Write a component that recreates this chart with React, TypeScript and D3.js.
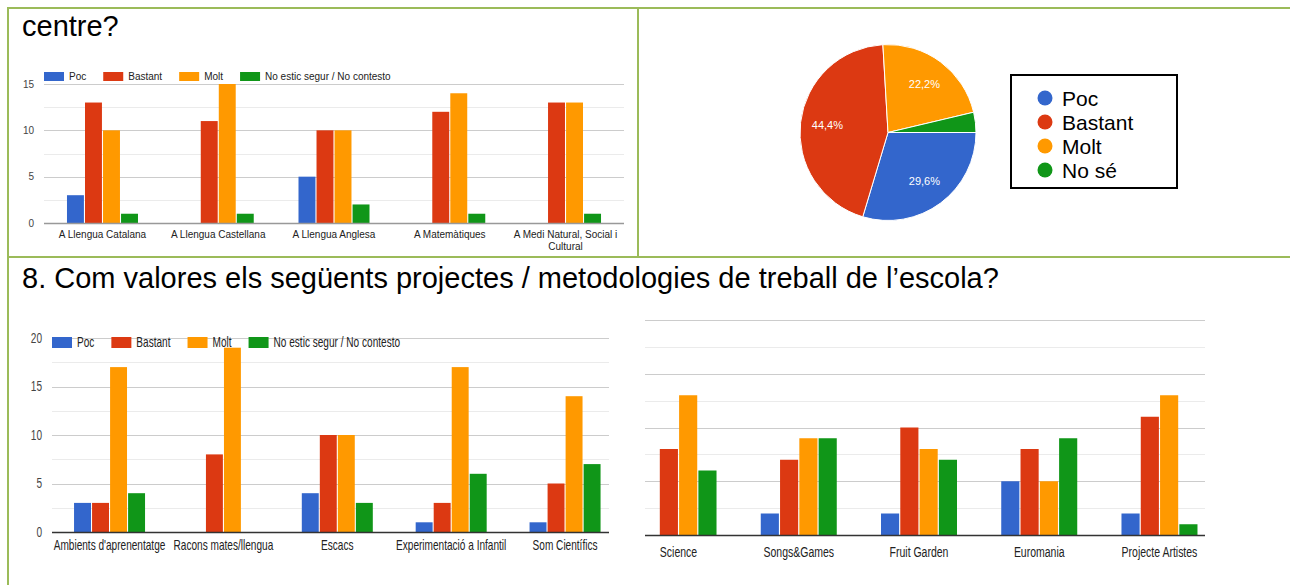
import React, { useEffect, useRef } from "react";
import * as d3 from "d3";

// series shared by the three bar charts
const SERIES = ["Poc", "Bastant", "Molt", "No estic segur / No contesto"];
const COLORS = ["#3366cc", "#dc3912", "#ff9900", "#109618"];

// top-left chart: areas
const AREAS = [
  "A Llengua Catalana",
  "A Llengua Castellana",
  "A Llengua Anglesa",
  "A Matemàtiques",
  "A Medi Natural, Social i Cultural",
];
const AREA_POC = [3, 0, 5, 0, 0];
const AREA_BASTANT = [13, 11, 10, 12, 13];
const AREA_MOLT = [10, 15, 10, 14, 13];
const AREA_NOSE = [1, 1, 2, 1, 1];
const AREA_TICKS = [0, 5, 10, 15];

// top-right pie
const PIE_LABELS = ["Poc", "Bastant", "Molt", "No sé"];
const PIE_VALUES = [8, 12, 6, 1];

// bottom-left chart: projects
const PROJECTS_A = [
  "Ambients d'aprenentatge",
  "Racons mates/llengua",
  "Escacs",
  "Experimentació a Infantil",
  "Som Científics",
];
const PROJ_A_POC = [3, 0, 4, 1, 1];
const PROJ_A_BASTANT = [3, 8, 10, 3, 5];
const PROJ_A_MOLT = [17, 19, 10, 17, 14];
const PROJ_A_NOSE = [4, 0, 3, 6, 7];
const PROJ_TICKS = [0, 5, 10, 15, 20];

// bottom-right chart: more projects (no axis labels in the picture)
const PROJECTS_B = ["Science", "Songs&Games", "Fruit Garden", "Euromania", "Projecte Artistes"];
const PROJ_B_POC = [0, 2, 2, 5, 2];
const PROJ_B_BASTANT = [8, 7, 10, 8, 11];
const PROJ_B_MOLT = [13, 9, 8, 5, 13];
const PROJ_B_NOSE = [6, 9, 7, 9, 1];

const TITLE_1 = "centre?";
const TITLE_2 = "8. Com valores els següents projectes / metodologies de treball de l’escola?";

const FONT = "Arial, 'Liberation Sans', sans-serif";
const BORDER = "#9bbb59";

const W = 1290;
const H = 585;

type Opts = {
  cats: string[];
  values: number[][];
  ticks: number[];
  xRange: [number, number];
  gridX: [number, number];
  yRange: [number, number]; // [base, top]
  groupW: number;
  size: number;
  sx: number;
  labelY: number;
  wrap?: number;
  yLabelX?: number;
  legend?: { x: number; y: number; h: number };
  baseColor: string;
};

// text helper, sx < 1 squeezes the glyphs like the stretched screenshot
function txt(g: any, x: number, y: number, s: string, size: number, sx: number, anchor = "start", fill = "#222") {
  return g
    .append("text")
    .attr("transform", `translate(${x},${y}) scale(${sx},1)`)
    .attr("text-anchor", anchor)
    .attr("font-size", size)
    .attr("font-family", FONT)
    .attr("fill", fill)
    .text(s);
}

function drawGrouped(svg: any, o: Opts) {
  const g = svg.append("g");
  const x = d3.scaleBand<string>().domain(o.cats).range(o.xRange);
  const y = d3.scaleLinear().domain([0, o.ticks[o.ticks.length - 1]]).range(o.yRange);
  const inner = d3
    .scaleBand<number>()
    .domain(d3.range(SERIES.length))
    .range([0, o.groupW])
    .paddingInner(0.06);
  const off = (x.bandwidth() - o.groupW) / 2;

  // minor grid lines halfway between ticks
  const minor = o.ticks.slice(1).map((t, i) => (t + o.ticks[i]) / 2);
  g.selectAll(".minor")
    .data(minor)
    .join("line")
    .attr("x1", o.gridX[0])
    .attr("x2", o.gridX[1])
    .attr("y1", (d: number) => Math.round(y(d)) + 0.5)
    .attr("y2", (d: number) => Math.round(y(d)) + 0.5)
    .attr("stroke", "#ebebeb");
  g.selectAll(".major")
    .data(o.ticks.slice(1))
    .join("line")
    .attr("x1", o.gridX[0])
    .attr("x2", o.gridX[1])
    .attr("y1", (d: number) => Math.round(y(d)) + 0.5)
    .attr("y2", (d: number) => Math.round(y(d)) + 0.5)
    .attr("stroke", "#cccccc");

  if (o.yLabelX !== undefined) {
    o.ticks.forEach((t) => {
      txt(g, o.yLabelX!, y(t) + o.size * 0.35, String(t), o.size, o.sx, "end", "#444");
    });
  }

  // bars
  o.values.forEach((vals, si) => {
    g.selectAll(`.s${si}`)
      .data(vals.map((v, i) => ({ v, c: o.cats[i] })).filter((d) => d.v > 0))
      .join("rect")
      .attr("x", (d: any) => (x(d.c) as number) + off + (inner(si) as number))
      .attr("width", inner.bandwidth())
      .attr("y", (d: any) => y(d.v))
      .attr("height", (d: any) => y(0) - y(d.v))
      .attr("fill", COLORS[si]);
  });

  g.append("line")
    .attr("x1", o.gridX[0])
    .attr("x2", o.gridX[1])
    .attr("y1", y(0) + 0.5)
    .attr("y2", y(0) + 0.5)
    .attr("stroke", o.baseColor)
    .attr("stroke-width", 1.5);

  // category labels, wrapped when too wide
  o.cats.forEach((c) => {
    const cx = (x(c) as number) + x.bandwidth() / 2;
    const words = c.split(" ");
    const lines: string[] = [];
    let cur = "";
    const probe = txt(g, 0, 0, "", o.size, o.sx);
    words.forEach((w) => {
      const test = cur ? cur + " " + w : w;
      probe.text(test);
      if (o.wrap && probe.node().getComputedTextLength() * o.sx > o.wrap && cur) {
        lines.push(cur);
        cur = w;
      } else cur = test;
    });
    lines.push(cur);
    probe.remove();
    lines.forEach((l, i) => txt(g, cx, o.labelY + i * (o.size + 2), l, o.size, o.sx, "middle"));
  });

  // legend along the top
  if (o.legend) {
    let lx = o.legend.x;
    SERIES.forEach((s, i) => {
      g.append("rect")
        .attr("x", lx)
        .attr("y", o.legend!.y)
        .attr("width", 20)
        .attr("height", o.legend!.h)
        .attr("fill", COLORS[i]);
      const t = txt(g, lx + 25, o.legend!.y + o.legend!.h - 1, s, o.size, o.sx);
      lx += 25 + t.node().getComputedTextLength() * o.sx + 17;
    });
  }
}

export default function App() {
  const ref = useRef<SVGSVGElement>(null);

  useEffect(() => {
    const svg = d3.select(ref.current);
    svg.selectAll("*").remove();

    // page frame lines
    const frame = [
      [7, 8, W, 8],
      [8, 7, 8, H],
      [638, 8, 638, 257],
      [8, 257, W, 257],
    ];
    svg.selectAll(".frame")
      .data(frame)
      .join("line")
      .attr("x1", (d: number[]) => d[0])
      .attr("y1", (d: number[]) => d[1])
      .attr("x2", (d: number[]) => d[2])
      .attr("y2", (d: number[]) => d[3])
      .attr("stroke", BORDER)
      .attr("stroke-width", 2);

    txt(svg, 22, 36, TITLE_1, 29, 1, "start", "#000");
    txt(svg, 22, 288, TITLE_2, 29, 1, "start", "#000");

    drawGrouped(svg, {
      cats: AREAS,
      values: [AREA_POC, AREA_BASTANT, AREA_MOLT, AREA_NOSE],
      ticks: AREA_TICKS,
      xRange: [44.6, 623.4],
      gridX: [44, 624],
      yRange: [223, 84],
      groupW: 71,
      size: 10,
      sx: 1,
      labelY: 238,
      wrap: 110,
      yLabelX: 34,
      legend: { x: 44, y: 72, h: 9 },
      baseColor: "#999",
    });

    drawGrouped(svg, {
      cats: PROJECTS_A,
      values: [PROJ_A_POC, PROJ_A_BASTANT, PROJ_A_MOLT, PROJ_A_NOSE],
      ticks: PROJ_TICKS,
      xRange: [52.6, 622],
      gridX: [52, 609],
      yRange: [532, 338],
      groupW: 71,
      size: 14,
      sx: 0.72,
      labelY: 550,
      yLabelX: 42,
      legend: { x: 52, y: 337, h: 11 },
      baseColor: "#333",
    });

    drawGrouped(svg, {
      cats: PROJECTS_B,
      values: [PROJ_B_POC, PROJ_B_BASTANT, PROJ_B_MOLT, PROJ_B_NOSE],
      ticks: PROJ_TICKS,
      xRange: [618.4, 1219.6],
      gridX: [645, 1205],
      yRange: [535, 320],
      groupW: 76,
      size: 14,
      sx: 0.75,
      labelY: 557,
      baseColor: "#333",
    });

    // pie
    const cx = 888;
    const cy = 132.5;
    const r = 88;
    const total = d3.sum(PIE_VALUES);
    const pie = d3
      .pie<number>()
      .sort(null)
      .startAngle(Math.PI / 2)
      .endAngle(Math.PI / 2 + 2 * Math.PI);
    const arcs = pie(PIE_VALUES);
    const arc = d3.arc<any>().innerRadius(0).outerRadius(r);
    const labelArc = d3.arc<any>().innerRadius(61).outerRadius(61);
    const pg = svg.append("g").attr("transform", `translate(${cx},${cy})`);
    pg.selectAll("path")
      .data(arcs)
      .join("path")
      .attr("d", arc)
      .attr("fill", (_: any, i: number) => COLORS[i])
      .attr("stroke", "#fff")
      .attr("stroke-width", 1);
    arcs.forEach((a) => {
      const share = a.data / total;
      if (share < 0.05) return;
      const [lx, ly] = labelArc.centroid(a);
      txt(pg, lx, ly + 4, d3.format(".1f")(share * 100).replace(".", ",") + "%", 11, 1, "middle", "#fff");
    });

    // pie legend box
    const lg = svg.append("g");
    lg.append("rect")
      .attr("x", 1011)
      .attr("y", 75)
      .attr("width", 166)
      .attr("height", 113)
      .attr("fill", "#fff")
      .attr("stroke", "#000")
      .attr("stroke-width", 2);
    const ly = d3.scalePoint<string>().domain(PIE_LABELS).range([98, 170]);
    PIE_LABELS.forEach((l, i) => {
      lg.append("circle")
        .attr("cx", 1045)
        .attr("cy", ly(l) as number)
        .attr("r", 7.5)
        .attr("fill", COLORS[i]);
      txt(lg, 1062, (ly(l) as number) + 7.5, l, 21, 1, "start", "#000");
    });
  }, []);

  return (
    <svg
      ref={ref}
      width={W}
      height={H}
      style={{ position: "absolute", left: 0, top: 0, background: "#fff" }}
    />
  );
}
